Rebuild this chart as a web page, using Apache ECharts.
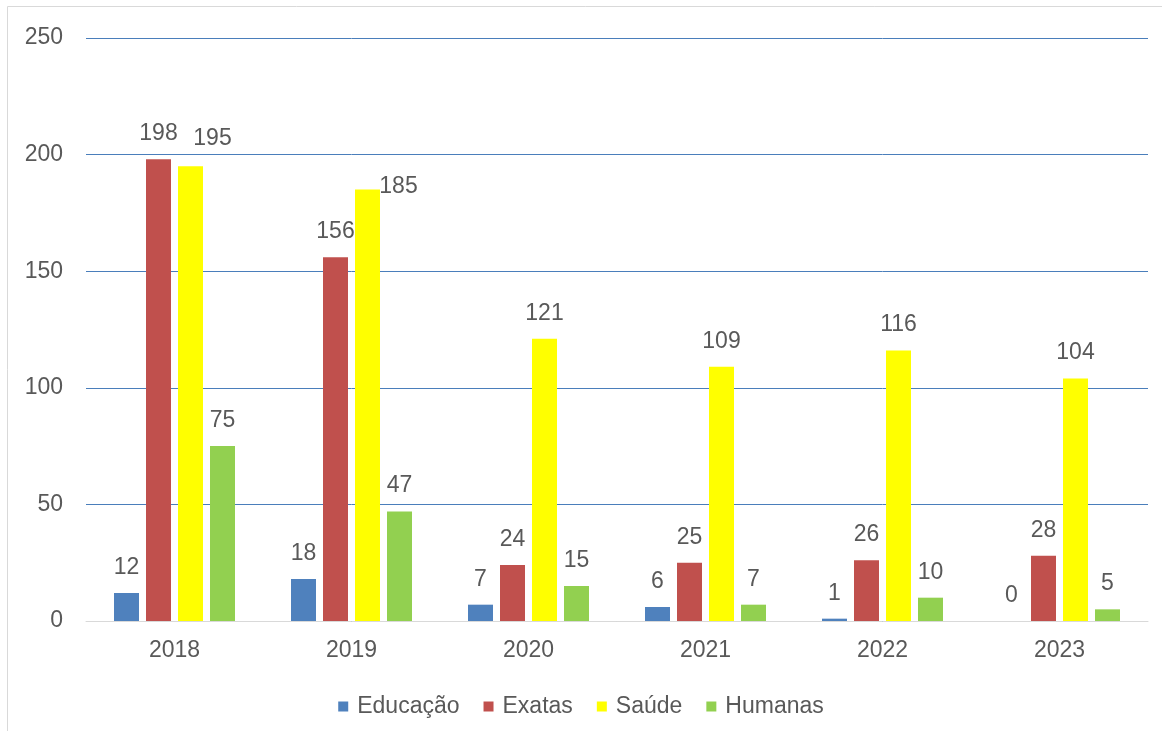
<!DOCTYPE html>
<html>
<head>
<meta charset="utf-8">
<script src="https://cdn.jsdelivr.net/npm/echarts@6/dist/echarts.min.js"></script>
<style>
    * { margin: 0; padding: 0; }
    body { background: #fff; }
    #main { width: 1162px; height: 731px; }
</style>
</head>
<body>
<div id="main"></div>
<script>
    // dados
    var anos = ['2018', '2019', '2020', '2021', '2022', '2023'];
    var educacao = [12, 18, 7, 6, 1, 0];
    var exatas = [198, 156, 24, 25, 26, 28];
    var saude = [195, 185, 121, 109, 116, 104];
    var humanas = [75, 47, 15, 7, 10, 5];

    var corTexto = '#595959';
    var fonte = 'Liberation Sans, Arial, sans-serif';
    var tam = 23;

    // rótulos deslocados (como o Excel faz quando se sobrepõem)
    var deslocamentos = { 'Saúde': { 0: [22, -2], 1: [31, 23] } };

    function serie(nome, dados, cor) {
        var desl = deslocamentos[nome] || {};
        return {
            name: nome,
            type: 'bar',
            data: dados.map(function (v, i) {
                return desl[i] ? { value: v, label: { offset: desl[i] } } : v;
            }),
            barWidth: 25,
            barGap: '28%',
            itemStyle: { color: cor },
            label: {
                show: true,
                position: 'top',
                distance: 14,
                color: corTexto,
                fontFamily: fonte,
                fontSize: tam
            }
        };
    }

    var myChart = echarts.init(document.getElementById('main'));
    var option = {
        animation: false,
        graphic: [{
            type: 'rect',
            shape: { x: 7.5, y: 6.5, width: 1170, height: 740 },
            style: { fill: 'none', stroke: '#d9d9d9', lineWidth: 1 },
            silent: true
        }],
        grid: { left: 86, right: 14, top: 38, bottom: 110 },
        legend: {
            left: 'center',
            top: 690,
            itemWidth: 10,
            itemHeight: 10,
            itemGap: 24,
            icon: 'rect',
            textStyle: { color: corTexto, fontFamily: fonte, fontSize: tam, padding: [0, 0, 0, 4] },
            data: ['Educação', 'Exatas', 'Saúde', 'Humanas']
        },
        xAxis: {
            type: 'category',
            data: anos,
            axisLine: { lineStyle: { color: '#d9d9d9', width: 1 } },
            axisTick: { show: false },
            axisLabel: { color: corTexto, fontFamily: fonte, fontSize: tam, margin: 18 }
        },
        yAxis: {
            type: 'value',
            min: 0,
            max: 250,
            interval: 50,
            axisLine: { show: false },
            axisTick: { show: false },
            axisLabel: { color: corTexto, fontFamily: fonte, fontSize: tam, margin: 23 },
            splitLine: { lineStyle: { color: '#4a7ebb', width: 1 } }
        },
        series: [
            serie('Educação', educacao, '#4f81bd'),
            serie('Exatas', exatas, '#c0504d'),
            serie('Saúde', saude, '#ffff00'),
            serie('Humanas', humanas, '#92d050')
        ]
    };
    myChart.setOption(option);
</script>
</body>
</html>
